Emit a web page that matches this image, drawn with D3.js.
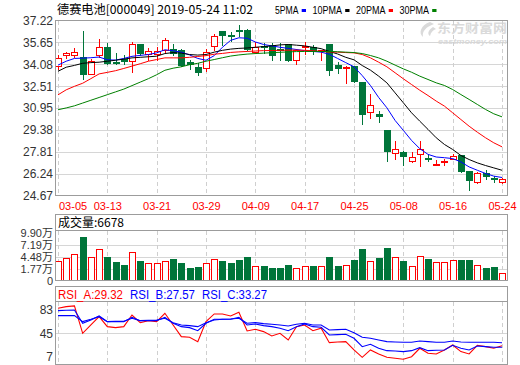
<!DOCTYPE html>
<html>
<head>
<meta charset="utf-8">
<script src="https://cdnjs.cloudflare.com/ajax/libs/d3/7.8.5/d3.min.js"></script>
<style>
	body { margin: 0; background: #fff; }
	svg { display: block; font-family: "Liberation Sans", Arial, sans-serif; }
	.frame { fill: none; stroke: #9c9c9c; stroke-width: 1; }
	.grid { stroke: #d6d6d6; stroke-width: 1; shape-rendering: crispEdges; }
	.vgrid { stroke: #cfcfcf; stroke-width: 1; stroke-dasharray: 4,3; shape-rendering: crispEdges; }
	.axisLabel text { font-size: 12px; fill: #333; }
	.cjk { font-family: "Noto Sans CJK SC", "Liberation Sans", sans-serif; }
</style>
</head>
<body>
<div id="chart"></div>
<script>
///////////////////////////////////////////////////////////////////////////
////////////////////////////// Data ///////////////////////////////////////
///////////////////////////////////////////////////////////////////////////

var title = "德赛电池[000049] 2019-05-24 11:02";

var dates = ["03-05","03-06","03-07","03-08","03-11","03-12","03-13","03-14","03-15","03-18",
	"03-19","03-20","03-21","03-22","03-25","03-26","03-27","03-28","03-29","04-01",
	"04-02","04-03","04-04","04-08","04-09","04-10","04-11","04-12","04-15","04-16",
	"04-17","04-18","04-19","04-22","04-23","04-24","04-25","04-26","04-29","04-30",
	"05-06","05-07","05-08","05-09","05-10","05-13","05-14","05-15","05-16","05-17",
	"05-20","05-21","05-22","05-23","05-24"];

var labelDates = ["03-05","03-13","03-21","03-29","04-09","04-17","04-25","05-08","05-16","05-24"];

var open = [33.94,34.72,34.72,34.61,33.39,34.71,35.33,34.22,34.49,34.30,
	35.50,34.80,34.85,35.14,35.19,35.14,34.23,33.87,33.82,35.38,
	36.50,36.17,36.57,36.57,34.97,35.40,35.43,35.20,35.50,34.37,
	35.36,35.33,35.05,35.50,34.00,33.85,33.95,32.80,30.65,30.55,
	29.36,27.73,27.77,27.16,27.63,27.35,26.92,27.08,27.30,27.61,
	26.41,25.63,26.25,25.90,25.63];
var close = [34.54,34.90,34.97,33.39,34.30,35.33,34.14,34.14,34.35,35.50,
	34.90,35.00,35.02,35.81,34.90,34.02,34.11,33.51,34.97,36.10,
	36.17,36.10,36.52,35.19,35.33,35.36,34.78,35.10,34.37,35.14,
	35.40,35.02,35.09,33.70,33.80,33.87,32.87,30.55,31.17,30.36,
	27.85,28.01,27.49,27.44,28.01,27.30,26.95,27.12,27.49,26.41,
	25.77,26.25,26.06,25.85,25.87];
var high = [34.71,34.97,35.26,36.50,34.47,35.86,35.62,34.90,34.78,35.69,
	35.50,35.26,35.31,35.95,35.50,35.19,34.37,34.18,35.19,36.22,
	36.50,36.38,36.93,36.64,35.67,35.62,35.62,35.62,35.50,35.19,
	35.67,35.45,35.14,35.50,34.26,33.99,33.95,32.80,31.98,30.72,
	29.36,28.56,27.84,27.77,28.56,27.61,27.22,27.30,27.65,27.61,
	26.41,26.35,26.49,26.06,25.94];
var low = [33.75,34.55,34.60,33.04,33.39,34.62,34.07,34.07,34.07,33.54,
	34.71,34.42,34.42,34.95,34.71,33.95,33.75,33.34,33.58,35.07,
	35.45,35.74,36.10,35.14,34.90,34.90,34.42,34.42,34.33,34.07,
	34.83,34.85,34.42,33.34,33.48,32.74,32.80,29.81,30.24,29.93,
	27.13,27.30,26.89,27.07,26.82,27.13,26.85,26.84,27.30,26.34,
	25.10,25.58,25.87,25.63,25.56];

var ma5 = [34.02,34.30,34.50,34.52,34.55,34.60,34.40,34.38,34.50,34.65,
	34.72,34.78,34.90,35.12,35.05,34.95,34.75,34.50,34.37,34.70,
	35.30,35.80,35.98,35.95,35.68,35.50,35.40,35.30,35.22,35.14,
	35.06,35.00,34.95,34.80,34.50,34.20,33.90,33.27,32.56,31.70,
	30.96,30.05,29.34,28.62,28.03,27.62,27.43,27.38,27.32,27.08,
	26.72,26.48,26.25,26.06,25.96];
var ma10 = [33.58,33.87,34.00,34.15,34.20,34.23,34.30,34.37,34.45,34.54,
	34.58,34.62,34.66,34.85,34.92,34.88,34.78,34.74,34.78,34.95,
	35.08,35.17,35.22,35.25,35.30,35.35,35.40,35.47,35.50,35.45,
	35.40,35.30,35.20,35.00,34.82,34.58,34.40,33.99,33.66,33.23,
	32.75,32.03,31.32,30.60,30.00,29.41,28.81,28.33,27.97,27.54,
	27.25,27.01,26.82,26.65,26.48];
var ma20 = [31.89,32.25,32.50,32.72,33.05,33.39,33.50,33.62,33.78,33.95,
	34.12,34.30,34.42,34.54,34.54,34.54,34.58,34.64,34.70,34.80,
	34.86,34.93,34.97,35.00,35.03,35.06,35.07,35.08,35.09,35.09,
	35.08,35.05,35.00,34.96,34.95,34.92,34.90,34.78,34.54,34.23,
	33.90,33.47,33.04,32.63,32.22,31.84,31.44,31.08,30.60,30.12,
	29.64,29.21,28.81,28.45,28.16];
var ma30 = [30.82,30.95,31.10,31.30,31.50,31.70,31.90,32.10,32.30,32.55,
	32.80,33.05,33.33,33.65,33.80,33.90,34.05,34.15,34.30,34.42,
	34.55,34.67,34.75,34.81,34.85,34.88,34.91,34.94,34.97,34.99,
	35.00,35.00,35.00,35.00,34.98,34.95,34.92,34.85,34.71,34.54,
	34.30,34.02,33.75,33.51,33.23,32.99,32.75,32.56,32.27,31.91,
	31.56,31.20,30.84,30.53,30.31];

//成交量, in 万
var volume = [3.47,4.32,5.25,9.04,4.55,6.18,4.40,3.24,2.54,5.71,
	3.47,3.00,3.00,3.62,3.93,3.00,1.84,2.08,3.16,4.09,
	3.47,3.00,3.70,4.40,2.46,2.31,1.84,1.84,2.54,1.84,
	2.46,2.31,2.46,4.40,2.31,2.70,3.70,6.25,3.47,4.16,
	6.48,4.55,3.47,2.46,4.78,3.93,3.24,3.24,3.70,3.70,
	3.70,2.54,1.84,2.08,0.6678];

var rsiA = [76.3,78.3,79.2,45.0,55.4,65.8,53.3,52.1,53.3,67.9,
	58.3,60.8,59.6,70.0,55.4,40.8,40.0,34.6,59.6,69.2,
	69.2,66.7,71.3,47.9,50.0,47.1,41.7,45.0,36.7,53.3,
	55.4,48.3,51.3,33.3,34.2,34.6,24.2,15.0,24.2,19.2,
	15.0,13.8,12.5,15.8,26.3,20.0,19.2,24.2,30.4,22.1,
	19.2,30.0,28.3,26.3,29.32];
var rsiB = [73.3,73.8,74.2,57.5,61.7,66.7,59.6,59.6,59.6,65.0,
	60.8,60.8,60.8,65.0,57.5,53.3,52.1,48.3,57.5,62.5,
	62.5,62.5,65.0,55.4,56.7,54.6,53.3,51.3,48.3,53.3,
	56.7,53.3,52.5,42.9,43.3,43.8,38.8,28.3,31.3,26.3,
	23.3,22.9,22.1,23.3,27.1,23.3,23.8,24.2,30.0,26.3,
	24.2,29.2,28.3,27.5,27.57];
var rsiC = [67.1,67.1,67.1,59.6,62.5,65.8,59.6,60.0,60.0,63.8,
	60.8,61.3,61.7,63.8,58.3,55.4,54.6,53.3,58.3,61.7,
	62.5,62.9,63.8,57.5,58.3,57.1,56.3,55.4,54.2,56.3,
	57.5,55.4,55.4,49.2,49.6,50.0,45.8,40.0,38.8,36.7,
	34.6,34.2,33.8,33.8,35.4,34.6,33.8,33.8,35.4,34.2,
	33.8,33.8,33.8,33.8,33.27];

var priceTicks = [37.22, 35.65, 34.08, 32.51, 30.95, 29.38, 27.81, 26.24, 24.67];
var volTicks = [1.77, 4.48, 7.19, 9.90];
var volFloor = -0.94;   //the "0" label sits at the bottom of the panel
var rsiTicks = [83, 45, 7];

var maNames = ["5PMA", "10PMA", "20PMA", "30PMA"];
var maSeries = [ma5, ma10, ma20, ma30];
var maColors = ["#0000ff", "#000000", "#ff0000", "#008000"];

var rsiNames = ["RSI_A", "RSI_B", "RSI_C"];
var rsiSeries = [rsiA, rsiB, rsiC];
var rsiColors = ["#ff0000", "#0000ff", "#0000ff"];

///////////////////////////////////////////////////////////////////////////
///////////////////////// Set up svg and scales ///////////////////////////
///////////////////////////////////////////////////////////////////////////

var upColor = "#ff0000",
	downColor = "#00753a";

var left = 55.5, right = 507.5;
var mainP = {top: 20.5, bottom: 195.5},
	volHead = {top: 214.5, bottom: 230.5},
	volP = {top: 230.5, bottom: 280.5},
	rsiHead = {top: 286.5, bottom: 301.5},
	rsiP = {top: 301.5, bottom: 364.5};

var svg = d3.select("#chart")
	.append("svg")
		.attr("width", 520)
		.attr("height", 365);

var x = d3.scalePoint().domain(dates).range([58, 502]);
var yPrice = d3.scaleLinear().domain([24.67, 37.22]).range([mainP.bottom, mainP.top]);
var yVol = d3.scaleLinear().domain([volFloor, 9.90]).range([280.5, 233.3]);
var yRsi = d3.scaleLinear().domain([7, 83]).range([363.7, 302.9]);

function px(d) { return Math.round(x(d)); }
function isUp(i) { return close[i] >= open[i]; }

///////////////////////////////////////////////////////////////////////////
///////////////////////////// Header texts ////////////////////////////////
///////////////////////////////////////////////////////////////////////////

svg.append("text")
	.attr("class", "cjk")
	.attr("x", 57)
	.attr("y", 13.5)
	.attr("textLength", 196)
	.attr("lengthAdjust", "spacingAndGlyphs")
	.style("font-size", "12px")
	.text(title);

//MA legend
var pos = 275;
maNames.forEach(function(name, i) {
	var w = name.length * 6;
	svg.append("text")
		.attr("x", pos)
		.attr("y", 13.5)
		.attr("textLength", w - 0.5)
		.attr("lengthAdjust", "spacingAndGlyphs")
		.style("font-size", "11px")
		.text(name);
	svg.append("rect")
		.attr("x", pos + w + 2.7)
		.attr("y", 9)
		.attr("width", 4.3)
		.attr("height", 3)
		.style("fill", maColors[i]);
	pos += w + 2.7 + 4.3 + 6.5;
});

//watermark
var wm = svg.append("g").style("fill", "#dadada");
wm.append("path")
	.attr("d", "M430,22 C421,25 418,33 423,37 C422,31 426,27 434,24 Z M433,27 C428,30 427,34 430,36 C431,32 433,30 436,29 Z");
wm.append("text")
	.attr("class", "cjk")
	.attr("x", 437)
	.attr("y", 33)
	.attr("textLength", 70)
	.attr("lengthAdjust", "spacingAndGlyphs")
	.style("font-size", "12.5px")
	.style("font-weight", "bold")
	.text("东方财富网");
wm.append("text")
	.attr("x", 438)
	.attr("y", 43.5)
	.attr("textLength", 69)
	.attr("lengthAdjust", "spacingAndGlyphs")
	.style("font-size", "7px")
	.style("font-weight", "bold")
	.style("font-style", "italic")
	.text("eastmoney.com");

///////////////////////////////////////////////////////////////////////////
/////////////////////////////// Gridlines /////////////////////////////////
///////////////////////////////////////////////////////////////////////////

svg.selectAll(".pgrid")
	.data(priceTicks.slice(1, -1))
	.enter().append("line")
	.attr("class", "grid")
	.attr("x1", left).attr("x2", right)
	.attr("y1", function(d) { return Math.round(yPrice(d)) + 0.5; })
	.attr("y2", function(d) { return Math.round(yPrice(d)) + 0.5; });

svg.selectAll(".vgridline")
	.data(volTicks.slice(0, -1))
	.enter().append("line")
	.attr("class", "grid")
	.attr("x1", left).attr("x2", right)
	.attr("y1", function(d) { return Math.round(yVol(d)) + 0.5; })
	.attr("y2", function(d) { return Math.round(yVol(d)) + 0.5; });

svg.append("line")
	.attr("class", "grid")
	.attr("x1", left).attr("x2", right)
	.attr("y1", Math.round(yRsi(45)) + 0.5)
	.attr("y2", Math.round(yRsi(45)) + 0.5);

[mainP, volP, rsiP].forEach(function(p) {
	svg.selectAll(null)
		.data(labelDates)
		.enter().append("line")
		.attr("class", "vgrid")
		.attr("x1", function(d) { return px(d) + 0.5; })
		.attr("x2", function(d) { return px(d) + 0.5; })
		.attr("y1", p.top)
		.attr("y2", p.bottom);
});

///////////////////////////////////////////////////////////////////////////
//////////////////////////////// Candles //////////////////////////////////
///////////////////////////////////////////////////////////////////////////

var candles = svg.append("g");
dates.forEach(function(d, i) {
	var cx = px(d);
	var top = Math.round(yPrice(Math.max(open[i], close[i])));
	var bot = Math.round(yPrice(Math.min(open[i], close[i])));
	if (bot - top < 1) bot = top + 1;
	var yH = Math.round(yPrice(high[i])), yL = Math.round(yPrice(low[i]));
	if (isUp(i)) {
		if (yH < top) candles.append("line").attr("x1", cx + 0.5).attr("x2", cx + 0.5)
			.attr("y1", yH).attr("y2", top).style("stroke", upColor);
		if (yL > bot) candles.append("line").attr("x1", cx + 0.5).attr("x2", cx + 0.5)
			.attr("y1", bot + 1).attr("y2", yL + 1).style("stroke", upColor);
		candles.append("rect")
			.attr("x", cx - 2.5).attr("y", top + 0.5)
			.attr("width", 6).attr("height", bot - top)
			.style("fill", "#fff").style("stroke", upColor);
	} else {
		candles.append("line").attr("x1", cx + 0.5).attr("x2", cx + 0.5)
			.attr("y1", yH).attr("y2", yL + 1).style("stroke", downColor);
		candles.append("rect")
			.attr("x", cx - 3).attr("y", top)
			.attr("width", 7).attr("height", Math.max(bot - top, 1) + 1)
			.style("fill", downColor);
	}
});

//Moving averages
maSeries.forEach(function(s, k) {
	var line = d3.line()
		.x(function(v, i) { return x(dates[i]); })
		.y(function(v) { return yPrice(v); });
	svg.append("path")
		.datum(s)
		.attr("d", line)
		.style("fill", "none")
		.style("stroke", maColors[k])
		.style("stroke-width", 1);
});

///////////////////////////////////////////////////////////////////////////
//////////////////////////////// Volume ///////////////////////////////////
///////////////////////////////////////////////////////////////////////////

var bars = svg.append("g");
dates.forEach(function(d, i) {
	var cx = px(d);
	var yt = Math.round(yVol(volume[i]));
	if (isUp(i)) {
		bars.append("rect")
			.attr("x", cx - 2.5).attr("y", yt + 0.5)
			.attr("width", 6).attr("height", Math.max(280 - yt, 1))
			.style("fill", "#fff").style("stroke", upColor);
	} else {
		bars.append("rect")
			.attr("x", cx - 3).attr("y", yt)
			.attr("width", 7).attr("height", 280.5 - yt)
			.style("fill", downColor);
	}
});

///////////////////////////////////////////////////////////////////////////
////////////////////////////////// RSI ////////////////////////////////////
///////////////////////////////////////////////////////////////////////////

rsiSeries.forEach(function(s, k) {
	var line = d3.line()
		.x(function(v, i) { return x(dates[i]); })
		.y(function(v) { return yRsi(v); });
	svg.append("path")
		.datum(s)
		.attr("d", line)
		.style("fill", "none")
		.style("stroke", rsiColors[k])
		.style("stroke-width", 1.1);
});

///////////////////////////////////////////////////////////////////////////
//////////////////////////// Frames and axes //////////////////////////////
///////////////////////////////////////////////////////////////////////////

[mainP, volHead, volP, rsiHead, rsiP].forEach(function(p) {
	svg.append("rect")
		.attr("class", "frame")
		.attr("x", left).attr("y", p.top)
		.attr("width", right - left).attr("height", p.bottom - p.top);
});

var priceAxis = svg.append("g")
	.attr("class", "axisLabel")
	.attr("transform", "translate(56,0)")
	.call(d3.axisLeft(yPrice).tickValues(priceTicks).tickSize(0).tickPadding(3)
		.tickFormat(d3.format(".2f")));
priceAxis.select(".domain").remove();

var volAxis = svg.append("g")
	.attr("class", "axisLabel")
	.attr("transform", "translate(56,0)")
	.call(d3.axisLeft(yVol).tickValues([volFloor].concat(volTicks)).tickSize(0).tickPadding(3)
		.tickFormat(function(d) { return d === volFloor ? "0" : d.toFixed(2) + "万"; }));
volAxis.select(".domain").remove();
volAxis.selectAll("text")
	.style("font-family", "'Liberation Sans', 'Noto Sans CJK SC', sans-serif")
	.style("font-size", "11px");

var rsiAxis = svg.append("g")
	.attr("class", "axisLabel")
	.attr("transform", "translate(56,0)")
	.call(d3.axisLeft(yRsi).tickValues(rsiTicks).tickSize(0).tickPadding(3));
rsiAxis.select(".domain").remove();
//end labels are pulled inside the panel
rsiAxis.selectAll("text")
	.attr("transform", function(d) { return d === 83 ? "translate(0,7)" : d === 7 ? "translate(0,-7.5)" : null; });

//x labels
svg.selectAll(".xLabel")
	.data(labelDates)
	.enter().append("text")
	.attr("class", "xLabel")
	.attr("x", function(d, i) { return i === 0 ? 59 : x(d) + 0.5; })
	.attr("y", 209.5)
	.style("text-anchor", function(d, i) { return i === 0 ? "start" : "middle"; })
	.style("font-size", "11px")
	.style("fill", "#ff0000")
	.text(function(d) { return d; });

//panel headers
svg.append("text")
	.attr("class", "cjk")
	.attr("x", 58)
	.attr("y", 227)
	.attr("textLength", 66)
	.attr("lengthAdjust", "spacingAndGlyphs")
	.style("font-size", "12px")
	.text("成交量:" + Math.round(volume[volume.length - 1] * 10000));

rsiNames.forEach(function(name, k) {
	var s = rsiSeries[k];
	svg.append("text")
		.attr("x", 58 + k * 72)
		.attr("y", 298.5)
		.attr("textLength", 65)
		.attr("lengthAdjust", "spacingAndGlyphs")
		.style("font-size", "12px")
		.style("fill", rsiColors[k])
		.text(name + ":" + s[s.length - 1].toFixed(2));
});
</script>
</body>
</html>
